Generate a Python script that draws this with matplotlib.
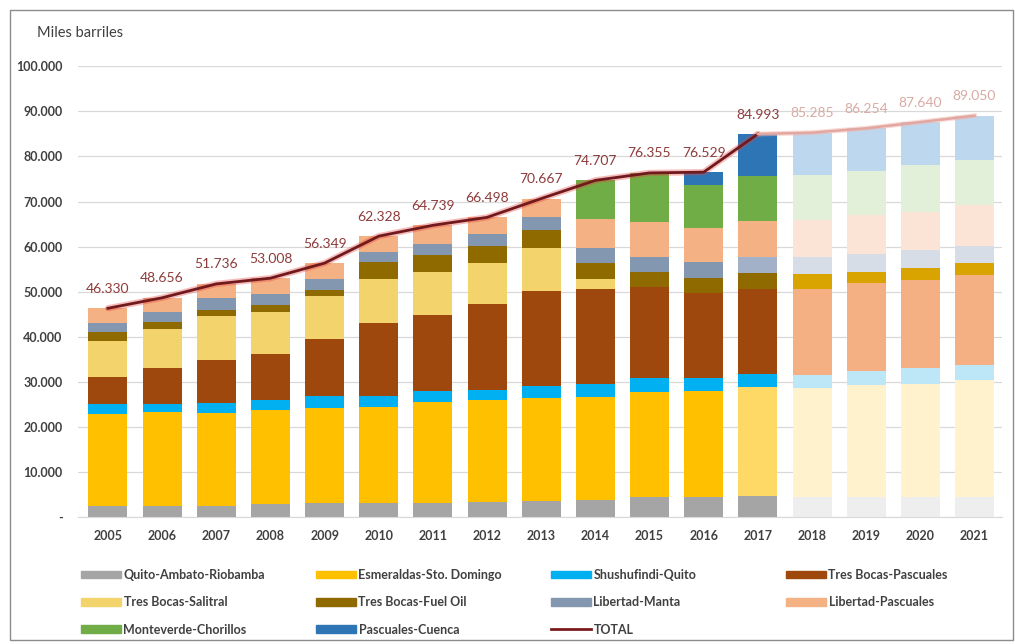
import matplotlib.pyplot as plt
import matplotlib.patches as mpatches
from matplotlib.lines import Line2D
from matplotlib.ticker import FuncFormatter
import numpy as np

plt.rcParams['font.family'] = ['Lato', 'DejaVu Sans']

# Demanda por poliducto, miles de barriles (2018-2021 proyectado)
years = [2005, 2006, 2007, 2008, 2009, 2010, 2011, 2012, 2013,
         2014, 2015, 2016, 2017, 2018, 2019, 2020, 2021]
quito_ambato = [2400, 2400, 2400, 3000, 3200, 3200, 3200, 3400, 3600,
                3900, 4400, 4400, 4700, 4400, 4400, 4400, 4400]
esmeraldas = [20400, 20900, 20700, 20700, 21100, 21300, 22400, 22500, 22900,
              22800, 23400, 23600, 24200, 24300, 24900, 25200, 26000]
shushufindi = [2200, 1900, 2200, 2200, 2600, 2400, 2300, 2300, 2600,
               2800, 3000, 2800, 2800, 2800, 3100, 3400, 3300]
tb_pascuales = [6100, 7900, 9500, 10200, 12700, 16200, 16900, 19000, 21000,
                21200, 20300, 18900, 19000, 19200, 19500, 19700, 20000]
tb_salitral = [7900, 8600, 9800, 9400, 9400, 9700, 9600, 9200, 9700,
               2100, 0, 0, 0, 0, 0, 0, 0]
tb_fuel_oil = [2100, 1500, 1400, 1500, 1300, 3800, 3700, 3700, 3800,
               3600, 3300, 3400, 3500, 3300, 2500, 2600, 2600]
lib_manta = [2000, 2300, 2500, 2400, 2600, 2200, 2400, 2600, 2900,
             3200, 3300, 3500, 3500, 3600, 3900, 3900, 3900]
lib_pascuales = [3230, 3156, 3236, 3608, 3449, 3528, 4239, 3798, 4167,
                 6607, 7755, 7629, 7993, 8285, 8654, 8540, 9000]
monteverde = [0, 0, 0, 0, 0, 0, 0, 0, 0,
              8500, 10900, 9400, 9900, 9900, 9800, 10300, 10100]
pasc_cuenca = [0, 0, 0, 0, 0, 0, 0, 0, 0,
               0, 0, 2900, 9400, 9500, 9500, 9600, 9750]
total = [46330, 48656, 51736, 53008, 56349, 62328, 64739, 66498, 70667,
         74707, 76355, 76529, 84993, 85285, 86254, 87640, 89050]

# (nombre, datos, color real, color 2017, color proyectado)
series = [
    ('Quito-Ambato-Riobamba', quito_ambato, '#A5A5A5', '#A5A5A5', '#EEEEEE'),
    ('Esmeraldas-Sto. Domingo', esmeraldas, '#FFC000', '#FFD966', '#FFF2CC'),
    ('Shushufindi-Quito', shushufindi, '#00B0F0', '#00B0F0', '#BDE6F6'),
    ('Tres Bocas-Pascuales', tb_pascuales, '#9E480E', '#9E480E', '#F4AF82'),
    ('Tres Bocas-Salitral', tb_salitral, '#F2D36C', '#F2D36C', '#F2D36C'),
    ('Tres Bocas-Fuel Oil', tb_fuel_oil, '#8F6A00', '#8F6A00', '#D9A400'),
    ('Libertad-Manta', lib_manta, '#8497B0', '#A2B1C8', '#D7DDE7'),
    ('Libertad-Pascuales', lib_pascuales, '#F4B183', '#F4B183', '#FBE4D5'),
    ('Monteverde-Chorillos', monteverde, '#70AD47', '#70AD47', '#E2EFD9'),
    ('Pascuales-Cuenca', pasc_cuenca, '#2E75B6', '#2E75B6', '#BDD7EE'),
]

fig = plt.figure(figsize=(10.15, 6.44), dpi=100)
ax = fig.add_axes([0.0768, 0.197, 0.910, 0.700])

x = np.arange(len(years))
bottom = np.zeros(len(years))
handles = {}
for name, vals, c_real, c_2017, c_proj in series:
    vals = np.array(vals, dtype=float)
    colors = []
    for y in years:
        if y < 2017:
            colors.append(c_real)
        elif y == 2017:
            colors.append(c_2017)
        else:
            colors.append(c_proj)
    ax.bar(x, vals, width=0.72, bottom=bottom, color=colors, zorder=2)
    bottom += vals
    handles[name] = mpatches.Patch(color=c_real, label=name)

# linea TOTAL: real hasta 2017, proyectada despues
n_real = years.index(2017) + 1
ax.plot(x[:n_real], total[:n_real], color='#E8413C', lw=4.5, alpha=0.35,
        zorder=3, solid_capstyle='round')
ax.plot(x[:n_real], total[:n_real], color='#701A1E', lw=2, zorder=4)
ax.plot(x[n_real - 1:], total[n_real - 1:], color='#F2B8B0', lw=3.5,
        alpha=0.5, zorder=3)
ax.plot(x[n_real - 1:], total[n_real - 1:], color='#E3A7A2', lw=1.8, zorder=4)


def miles(v):
    return f'{v:,.0f}'.replace(',', '.')


for i, t in enumerate(total):
    col = '#8E3B3B' if years[i] <= 2017 else '#D9AAA3'
    ax.annotate(miles(t), (x[i], t), xytext=(0, 14), textcoords='offset points',
                ha='center', va='center', fontsize=10, color=col, zorder=5)

ax.set_xlim(-0.554, len(years) - 0.5)
ax.set_ylim(0, 100000)
ax.set_yticks(np.arange(0, 100001, 10000))
ax.yaxis.set_major_formatter(FuncFormatter(lambda v, p: '-' if v == 0 else miles(v)))
ax.set_xticks(x)
ax.set_xticklabels([str(y) for y in years])
ax.grid(axis='y', color='#D9D9D9', lw=0.9, zorder=0)
ax.set_axisbelow(True)
for s in ['top', 'right', 'left']:
    ax.spines[s].set_visible(False)
ax.spines['bottom'].set_color('#D9D9D9')
ax.tick_params(axis='both', length=0, labelsize=9, labelcolor='#404040')
ax.tick_params(axis='y', pad=11)
ax.tick_params(axis='x', pad=9)
for lbl in ax.get_xticklabels() + ax.get_yticklabels():
    lbl.set_fontweight('bold')

fig.text(37 / 1015, 1 - 33 / 644, 'Miles barriles', fontsize=10.5,
         color='#404040', va='center', ha='left')

# leyenda en cuatro columnas
handles['TOTAL'] = Line2D([], [], color='#7A1C1E', lw=2, label='TOTAL')
legend_cols = [
    ['Quito-Ambato-Riobamba', 'Tres Bocas-Salitral', 'Monteverde-Chorillos'],
    ['Esmeraldas-Sto. Domingo', 'Tres Bocas-Fuel Oil', 'Pascuales-Cuenca'],
    ['Shushufindi-Quito', 'Libertad-Manta', 'TOTAL'],
    ['Tres Bocas-Pascuales', 'Libertad-Pascuales'],
]
col_x = [76, 311, 546, 781]
for cx, names in zip(col_x, legend_cols):
    leg = fig.legend(handles=[handles[n] for n in names], loc='upper left',
                     bbox_to_anchor=(cx / 1015, 1 - 564 / 644), frameon=False,
                     fontsize=9, handlelength=3.2, handleheight=0.55,
                     handletextpad=0.2, labelspacing=1.22, borderaxespad=0)
    for t in leg.get_texts():
        t.set_fontweight('bold')
        t.set_color('#404040')

fig.patches.append(mpatches.Rectangle((10 / 1015, 4 / 644), 1003 / 1015, 630 / 644,
                                      transform=fig.transFigure, fill=False,
                                      edgecolor='#8C8C8C', lw=1))

fig.savefig('out.png', dpi=100)
